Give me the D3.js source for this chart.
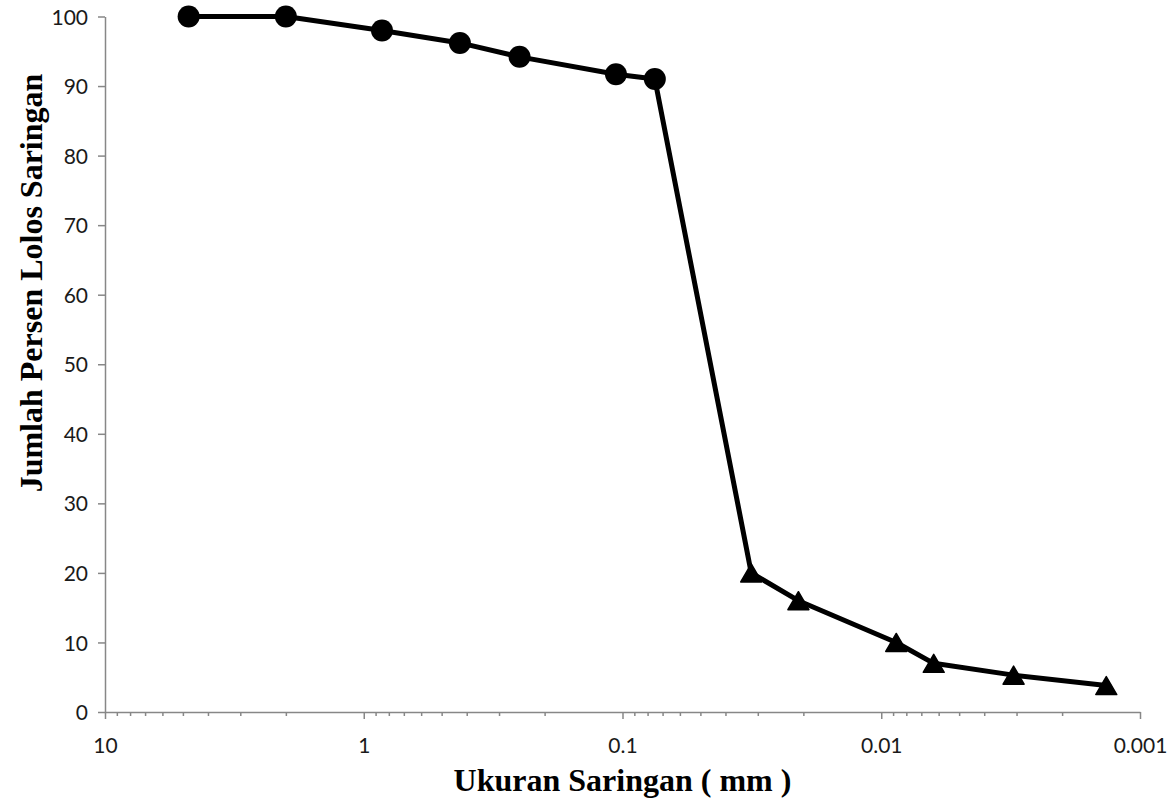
<!DOCTYPE html>
<html>
<head>
<meta charset="utf-8">
<script src="https://d3js.org/d3.v7.min.js"></script>
<style>
  body { margin: 0; background: #fff; }
  .tick text { font-family: Lato, "Open Sans", sans-serif; font-size: 21px; fill: #1a1a1a; }
  .axis-title { font-family: "Liberation Serif", "Times New Roman", serif; font-weight: bold; font-size: 32px; fill: #000; }
</style>
</head>
<body>
<div id="chart"></div>
<script>
  // sieve analysis (circles)
  var sieveSize = [4.75, 2.0, 0.85, 0.425, 0.25, 0.106, 0.075];
  var sievePass = [100, 100, 98, 96.2, 94.2, 91.7, 91.0];

  // hydrometer analysis (triangles)
  var hydroSize = [0.0318, 0.0209, 0.00875, 0.00627, 0.00308, 0.00135];
  var hydroPass = [20, 16, 10, 7, 5.3, 3.8];

  // axis ticks
  var xMajor = [10, 1, 0.1, 0.01, 0.001];
  var xLabels = ["10", "1", "0.1", "0.01", "0.001"];
  var yTicks = [0, 10, 20, 30, 40, 50, 60, 70, 80, 90, 100];

  var width = 1173, height = 802;
  var margin = {top: 16.5, right: 33, bottom: 90, left: 105};

  var svg = d3.select("#chart").append("svg")
      .attr("width", width)
      .attr("height", height);

  var x = d3.scaleLog()
      .domain([10, 0.001])
      .range([margin.left, width - margin.right]);

  var y = d3.scaleLinear()
      .domain([0, 100])
      .range([height - margin.bottom, margin.top]);

  // minor ticks 2..9 inside each decade
  var xMinor = [];
  xMajor.slice(1).forEach(function(d) {
    for (var k = 2; k <= 9; k++) xMinor.push(d * k);
  });

  var axisColor = "#878787";

  // x axis: minor ticks first, then major with labels
  var gxMinor = svg.append("g")
      .attr("transform", "translate(0," + y(0) + ")")
      .call(d3.axisBottom(x).tickValues(xMinor).tickSize(4).tickFormat(""));
  gxMinor.select(".domain").remove();
  gxMinor.selectAll("line").attr("stroke", axisColor).attr("stroke-width", 1.5);

  var gx = svg.append("g")
      .attr("transform", "translate(0," + y(0) + ")")
      .call(d3.axisBottom(x).tickValues(xMajor).tickSize(7).tickSizeOuter(0)
        .tickFormat(function(d, i) { return xLabels[i]; }));
  gx.select(".domain").attr("stroke", axisColor).attr("stroke-width", 1.5);
  gx.selectAll("line").attr("stroke", axisColor).attr("stroke-width", 1.5);
  gx.selectAll("text").attr("dy", "0").attr("y", 41);

  // y axis
  var gy = svg.append("g")
      .attr("transform", "translate(" + x(10) + ",0)")
      .call(d3.axisLeft(y).tickValues(yTicks).tickSize(7).tickSizeOuter(0).tickPadding(10));
  gy.select(".domain").attr("stroke", axisColor).attr("stroke-width", 1.5);
  gy.selectAll("line").attr("stroke", axisColor).attr("stroke-width", 1.5);
  gy.selectAll("text").attr("dy", "0.36em");

  // one continuous line through both series
  var all = sieveSize.map(function(d, i) { return [d, sievePass[i]]; })
    .concat(hydroSize.map(function(d, i) { return [d, hydroPass[i]]; }));

  svg.append("path")
      .datum(all)
      .attr("fill", "none")
      .attr("stroke", "#000")
      .attr("stroke-width", 5)
      .attr("stroke-linejoin", "round")
      .attr("d", d3.line()
        .x(function(d) { return x(d[0]); })
        .y(function(d) { return y(d[1]); }));

  // circle markers
  svg.selectAll(".dot")
      .data(sieveSize)
      .enter().append("circle")
      .attr("cx", function(d) { return x(d); })
      .attr("cy", function(d, i) { return y(sievePass[i]); })
      .attr("r", 11)
      .attr("fill", "#000");

  // triangle markers (centred on their bounding box)
  var tri = "M0,-9 L10.5,9 L-10.5,9 Z";
  svg.selectAll(".tri")
      .data(hydroSize)
      .enter().append("path")
      .attr("d", tri)
      .attr("transform", function(d, i) { return "translate(" + x(d) + "," + y(hydroPass[i]) + ")"; })
      .attr("fill", "#000")
      .attr("stroke", "#000")
      .attr("stroke-width", 1.5)
      .attr("stroke-linejoin", "round");

  // axis titles
  svg.append("text")
      .attr("class", "axis-title")
      .attr("x", (x(10) + x(0.001)) / 2)
      .attr("y", 791)
      .attr("text-anchor", "middle")
      .text("Ukuran Saringan ( mm )");

  svg.append("text")
      .attr("class", "axis-title")
      .attr("transform", "translate(42,283) rotate(-90)")
      .attr("text-anchor", "middle")
      .text("Jumlah Persen Lolos Saringan");
</script>
</body>
</html>
